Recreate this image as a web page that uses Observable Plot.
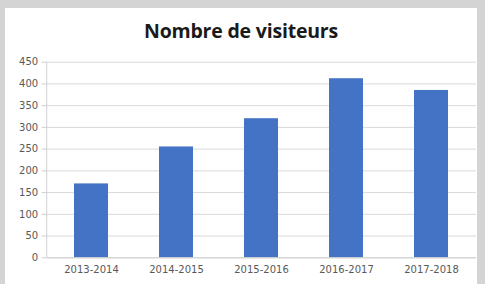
<!DOCTYPE html>
<html>
<head>
<meta charset="utf-8">
<script src="https://cdn.jsdelivr.net/npm/d3@7"></script>
<script src="https://cdn.jsdelivr.net/npm/@observablehq/plot@0.6"></script>
<style>
  html, body { margin: 0; padding: 0; background: #d4d4d4; width: 485px; height: 284px; overflow: hidden; }
  #panel { position: absolute; left: 5px; top: 8px; width: 472px; height: 276px; background: #ffffff; }
  #title { height: 37px; line-height: 46px; text-align: center; font-family: "Open Sans", sans-serif; font-weight: bold; font-size: 19.5px; color: #1a1a1a; letter-spacing: -0.2px; }
  svg { display: block; }
</style>
</head>
<body>
<div id="panel">
  <div id="title">Nombre de visiteurs</div>
  <div id="chart"></div>
</div>
<script>
const categories = ["2013-2014", "2014-2015", "2015-2016", "2016-2017", "2017-2018"];
const visitors = [170, 255, 320, 412, 385];
const yTicks = [0, 50, 100, 150, 200, 250, 300, 350, 400, 450];

const data = categories.map((c, i) => ({category: c, value: visitors[i]}));

// left axis line drawn from the plot's own dimensions
function leftAxisLine(index, scales, values, dimensions) {
  const {marginLeft, marginTop, height, marginBottom} = dimensions;
  const line = document.createElementNS("http://www.w3.org/2000/svg", "line");
  line.setAttribute("x1", marginLeft);
  line.setAttribute("x2", marginLeft);
  line.setAttribute("y1", marginTop);
  line.setAttribute("y2", height - marginBottom);
  line.setAttribute("stroke", "#d0d0d0");
  return line;
}

const chart = Plot.plot({
  width: 472,
  height: 239,
  marginTop: 16.7,
  marginBottom: 26.7,
  marginLeft: 41.7,
  marginRight: 1,
  style: {fontFamily: "DejaVu Sans, sans-serif", fontSize: "10px", color: "#595959", background: "transparent"},
  x: {domain: categories, paddingInner: 0.6, paddingOuter: 0.3, label: null},
  y: {domain: [0, 450], label: null},
  marks: [
    Plot.gridY(yTicks, {stroke: "#d9d9d9", strokeOpacity: 1}),
    Plot.barY(data, {x: "category", y: "value", fill: "#4472c4"}),
    Plot.ruleY([0], {stroke: "#d0d0d0"}),
    leftAxisLine,
    Plot.axisY(yTicks, {tickSize: 5, tickPadding: 4, stroke: "#d0d0d0", fill: "#595959", label: null}),
    Plot.axisX({tickSize: 0, tickPadding: 8, fill: "#595959", label: null})
  ]
});
document.getElementById("chart").appendChild(chart);
</script>
</body>
</html>
